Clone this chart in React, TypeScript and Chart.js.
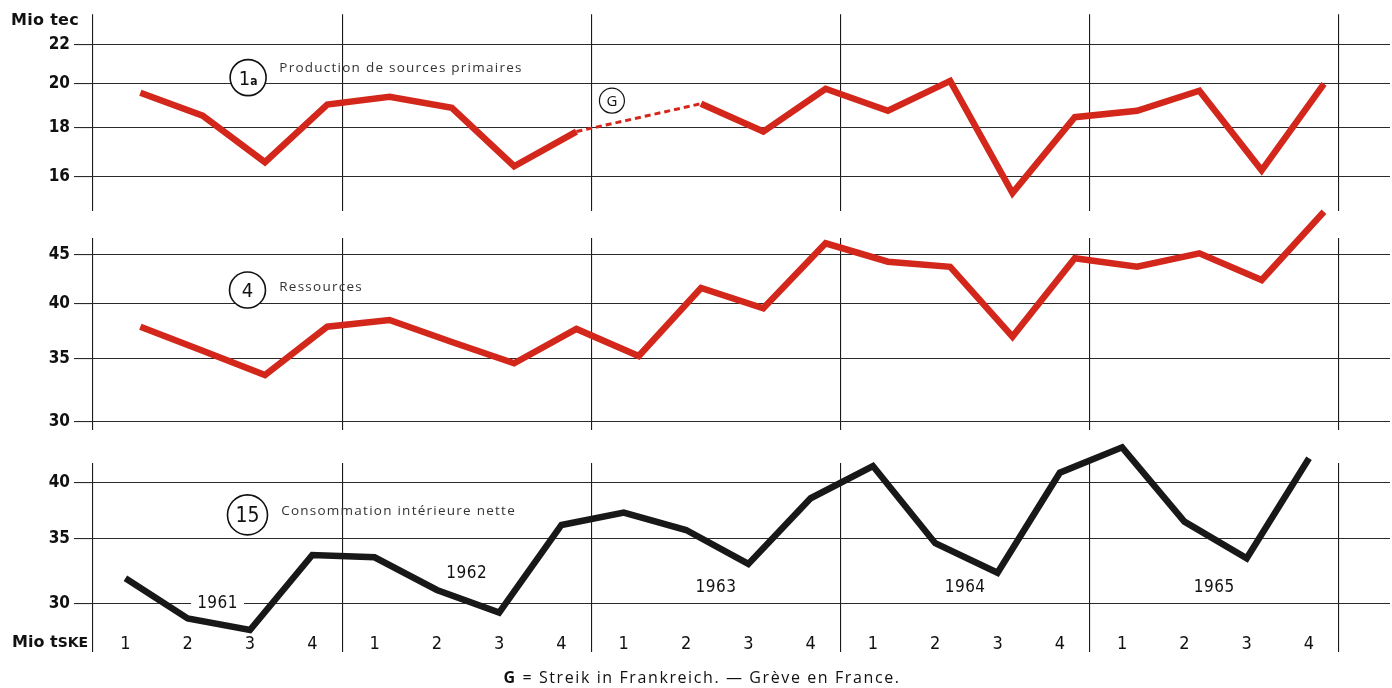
import React, { useEffect, useRef } from 'react';
import { Chart, registerables } from 'chart.js';

Chart.register(...registerables);

// ---------- data ----------
const YEARS = ['1961', '1962', '1963', '1964', '1965'];
const QUARTERS = ['1', '2', '3', '4'];

// 1a  Production de sources primaires (Mio tec), quarterly 1961 Q1 .. 1965 Q4
const PRODUCTION: (number | null)[] = [
  19.57, 18.52, 16.55, 19.02,
  19.38, 18.87, 16.39, 17.82,
  null, 19.06, 17.82, 19.76,
  18.74, 20.14, 15.36, 18.45,
  18.74, 19.67, 16.23, 20.0,
];
// G = strike in France: dashed bridge between these quarter indexes
const STRIKE_FROM = 7;
const STRIKE_TO = 9;

// 4  Ressources
const RESSOURCES: number[] = [
  37.8, 35.65, 33.61, 37.8,
  38.42, 36.42, 34.58, 37.59,
  35.2, 41.53, 39.53, 46.3,
  44.27, 43.73, 36.9, 44.64,
  43.73, 45.18, 42.34, 50.0,
];

// 15  Consommation intérieure nette
const CONSOMMATION: number[] = [
  31.84, 28.94, 28.15, 33.66,
  33.48, 30.97, 29.34, 36.16,
  37.24, 35.73, 32.95, 38.54,
  41.62, 34.62, 32.27, 40.96,
  43.52, 36.45, 33.4, 42.39,
];

const TICKS_PRODUCTION = [16, 18, 20, 22];
const TICKS_RESSOURCES = [30, 35, 40, 45];
const TICKS_CONSOMMATION = [30, 35, 40];

// ---------- style ----------
const W = 1392;
const H = 688;
const X_MAX = 20.82;
const RED_OFFSET = 0.76;
const BLACK_OFFSET = 0.52;
const RED = '#d3271c';
const BLACK = '#181818';
const NARROW = '"Liberation Sans Narrow", "DejaVu Sans Condensed", "Roboto", sans-serif';
const LIGHT = '"Open Sans", "Noto Sans", sans-serif';

const toPoints = (values: (number | null)[], offset: number) =>
  values.map((v, i) => ({ x: i + offset, y: v }));

const isBoundary = (v: number) => Math.abs(v / 4 - Math.round(v / 4)) < 1e-6;

type Note = any;

const notesPlugin = {
  id: 'notes',
  afterDatasetsDraw(chart: any, _args: any, opts: any) {
    const ctx: CanvasRenderingContext2D = chart.ctx;
    const xs = chart.scales.x;
    const ys = chart.scales.y;
    ctx.save();
    for (const n of (opts.items || []) as Note[]) {
      const px = xs.getPixelForValue(n.x);
      const py = ys.getPixelForValue(n.y);
      if (n.kind === 'circle') {
        ctx.beginPath();
        ctx.arc(px, py, n.r, 0, Math.PI * 2);
        ctx.fillStyle = '#ffffff';
        ctx.fill();
        ctx.lineWidth = n.lw || 1.6;
        ctx.strokeStyle = '#111111';
        ctx.stroke();
        ctx.textBaseline = 'alphabetic';
        ctx.textAlign = 'left';
        let total = 0;
        const widths: number[] = [];
        for (const [t, f] of n.parts) {
          ctx.font = f;
          const w = ctx.measureText(t).width;
          widths.push(w);
          total += w;
        }
        let cx = px - total / 2;
        ctx.fillStyle = '#111111';
        n.parts.forEach(([t, f]: [string, string], i: number) => {
          ctx.font = f;
          ctx.fillText(t, cx, py + (n.base || 6));
          cx += widths[i];
        });
      } else {
        ctx.font = n.font;
        (ctx as any).letterSpacing = n.spacing || '0px';
        ctx.textAlign = n.align || 'left';
        ctx.textBaseline = 'middle';
        if (n.bg) {
          const w = ctx.measureText(n.text).width;
          ctx.fillStyle = '#ffffff';
          const left = n.align === 'center' ? px - w / 2 : px;
          ctx.fillRect(left - 6, py - 9, w + 12, 18);
        }
        ctx.fillStyle = n.color || '#222';
        ctx.fillText(n.text, px, py);
        (ctx as any).letterSpacing = '0px';
      }
    }
    ctx.restore();
  },
};

type Panel = {
  top: number;
  bottom: number;
  yMin: number;
  yMax: number;
  yTicks: number[];
  quarters: boolean;
  datasets: any[];
  notes: Note[];
};

const lineStyle = (color: string) => ({
  borderColor: color,
  borderWidth: 6.5,
  pointRadius: 0,
  tension: 0,
  clip: false as any,
  borderJoinStyle: 'miter' as const,
  spanGaps: false,
});

const strikeBridge = [STRIKE_FROM, STRIKE_TO].map((i) => ({ x: i + RED_OFFSET, y: PRODUCTION[i] }));

const LABEL_FONT = `13.5px ${LIGHT}`;
const LABEL_SPACING = '1.25px';
const YEAR_FONT = `17px ${NARROW}`;

const PANELS: Panel[] = [
  {
    top: 13,
    bottom: 211,
    yMin: 14.71,
    yMax: 23.66,
    yTicks: TICKS_PRODUCTION,
    quarters: false,
    datasets: [
      { label: 'Production de sources primaires', data: toPoints(PRODUCTION, RED_OFFSET), ...lineStyle(RED) },
      {
        label: 'G',
        data: strikeBridge,
        borderColor: RED,
        borderWidth: 3,
        borderDash: [6, 4],
        pointRadius: 0,
        clip: false as any,
      },
    ],
    notes: [
      { kind: 'circle', x: 2.49, y: 20.3, r: 18, parts: [['1', `20px ${NARROW}`], ['a', `bold 12px ${NARROW}`]], base: 7 },
      { kind: 'text', x: 2.99, y: 20.78, text: 'Production de sources primaires', font: LABEL_FONT, color: '#333', spacing: LABEL_SPACING },
      { kind: 'circle', x: 8.33, y: 19.2, r: 12.5, parts: [['G', `15px ${LIGHT}`]], base: 5.5, lw: 1.2 },
    ],
  },
  {
    top: 238,
    bottom: 430,
    yMin: 29.4,
    yMax: 46.9,
    yTicks: TICKS_RESSOURCES,
    quarters: false,
    datasets: [{ label: 'Ressources', data: toPoints(RESSOURCES, RED_OFFSET), ...lineStyle(RED) }],
    notes: [
      { kind: 'circle', x: 2.48, y: 41.33, r: 18, parts: [['4', `20px ${NARROW}`]], base: 7 },
      { kind: 'text', x: 2.99, y: 41.6, text: 'Ressources', font: LABEL_FONT, color: '#333', spacing: LABEL_SPACING },
    ],
  },
  {
    top: 463,
    bottom: 652,
    yMin: 26.71,
    yMax: 41.92,
    yTicks: TICKS_CONSOMMATION,
    quarters: true,
    datasets: [{ label: 'Consommation intérieure nette', data: toPoints(CONSOMMATION, BLACK_OFFSET), ...lineStyle(BLACK) }],
    notes: [
      { kind: 'circle', x: 2.48, y: 37.04, r: 20, parts: [['15', `21px ${NARROW}`]], base: 7.5 },
      { kind: 'text', x: 3.02, y: 37.4, text: 'Consommation intérieure nette', font: LABEL_FONT, color: '#333', spacing: LABEL_SPACING },
      { kind: 'text', x: 2, y: 30, text: YEARS[0], font: YEAR_FONT, color: '#111', align: 'center', bg: true, spacing: '0.5px' },
      { kind: 'text', x: 6, y: 32.17, text: YEARS[1], font: YEAR_FONT, color: '#111', align: 'center', spacing: '0.5px' },
      { kind: 'text', x: 10, y: 31.12, text: YEARS[2], font: YEAR_FONT, color: '#111', align: 'center', spacing: '0.5px' },
      { kind: 'text', x: 14, y: 31.12, text: YEARS[3], font: YEAR_FONT, color: '#111', align: 'center', spacing: '0.5px' },
      { kind: 'text', x: 18, y: 31.12, text: YEARS[4], font: YEAR_FONT, color: '#111', align: 'center', spacing: '0.5px' },
    ],
  },
];

function PanelChart({ panel }: { panel: Panel }) {
  const ref = useRef<HTMLCanvasElement | null>(null);
  useEffect(() => {
    if (!ref.current) return;
    const boundaries = [0, 4, 8, 12, 16, 20];
    const centers = Array.from({ length: 20 }, (_, i) => i + BLACK_OFFSET);
    const xTickValues = panel.quarters ? [...boundaries, ...centers].sort((a, b) => a - b) : boundaries;
    const chart = new Chart(ref.current, {
      type: 'line',
      data: { datasets: panel.datasets },
      plugins: [notesPlugin as any],
      options: {
        responsive: false,
        animation: false,
        events: [],
        layout: { padding: { top: panel.top, bottom: H - panel.bottom, left: 0, right: 2 } },
        plugins: {
          legend: { display: false },
          tooltip: { enabled: false },
          notes: { items: panel.notes },
        } as any,
        scales: {
          x: {
            type: 'linear',
            min: 0,
            max: X_MAX,
            bounds: 'data',
            afterFit: (s: any) => {
              s.height = 0;
            },
            afterBuildTicks: (s: any) => {
              s.ticks = xTickValues.map((v) => ({ value: v }));
            },
            border: { display: false },
            grid: {
              drawTicks: false,
              lineWidth: 1.1,
              color: (c: any) => (c.tick && isBoundary(c.tick.value) ? '#1a1a1a' : 'rgba(0,0,0,0)'),
            },
            ticks: {
              display: panel.quarters,
              mirror: true,
              autoSkip: false,
              maxRotation: 0,
              padding: -3,
              color: '#111',
              font: { family: NARROW, size: 18 },
              callback: (v: any) => (isBoundary(Number(v)) ? '' : QUARTERS[Math.floor(Number(v)) % 4]),
            },
          },
          y: {
            type: 'logarithmic',
            min: panel.yMin,
            max: panel.yMax,
            bounds: 'data',
            afterFit: (s: any) => {
              s.width = 93;
            },
            afterBuildTicks: (s: any) => {
              s.ticks = panel.yTicks.map((v) => ({ value: v }));
            },
            border: { display: false },
            grid: { color: '#2a2a2a', lineWidth: 1.1, tickLength: 19, drawTicks: true },
            ticks: {
              padding: 4,
              color: '#111',
              font: { family: NARROW, size: 17, weight: 'bold' },
              callback: (v: any) => String(v),
            },
          },
        },
      } as any,
    });
    return () => chart.destroy();
  }, [panel]);
  return (
    <canvas
      ref={ref}
      width={W}
      height={H}
      style={{ position: 'absolute', left: 0, top: 0, width: W, height: H }}
    />
  );
}

export default function App() {
  return (
    <div style={{ position: 'absolute', left: 0, top: 0, width: W, height: H, background: '#ffffff', overflow: 'hidden' }}>
      {PANELS.map((p, i) => (
        <PanelChart key={i} panel={p} />
      ))}
      <div
        style={{
          position: 'absolute', left: 11, top: 9, fontFamily: '"DejaVu Sans", sans-serif', fontWeight: 700,
          fontSize: 16, letterSpacing: '0.3px', color: '#111', lineHeight: '22px',
        }}
      >
        Mio tec
      </div>
      <div
        style={{
          position: 'absolute', left: 12, top: 631, fontFamily: '"DejaVu Sans", sans-serif', fontWeight: 700,
          fontSize: 16, color: '#111', lineHeight: '22px',
        }}
      >
        Mio t<span style={{ fontSize: 14 }}>SKE</span>
      </div>
      <div
        style={{
          position: 'absolute', left: 0, width: W, top: 666, textAlign: 'center', fontFamily: LIGHT,
          fontSize: 16, letterSpacing: '1.6px', color: '#111', lineHeight: '22px', paddingLeft: 6,
        }}
      >
        <b>G</b> = Streik in Frankreich. — Grève en France.
      </div>
    </div>
  );
}
